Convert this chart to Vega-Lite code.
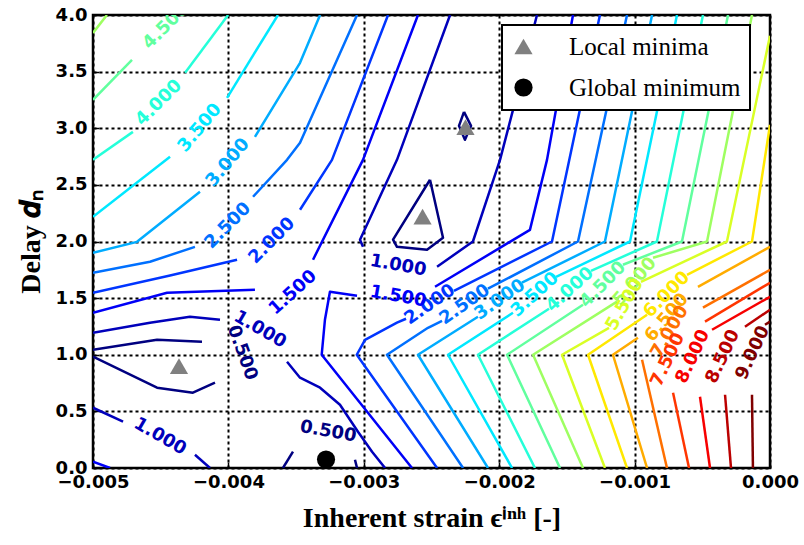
{
  "$schema": "https://vega.github.io/schema/vega-lite/v6.json",
  "width": 677,
  "height": 453,
  "autosize": {"type": "none"},
  "padding": {"left": 93, "top": 15, "right": 34, "bottom": 77},
  "background": "white",
  "config": {
    "view": {"stroke": "#000", "strokeWidth": 2.5},
    "axis": {
      "domain": false,
      "grid": true,
      "gridColor": "#000",
      "gridDash": [3, 3],
      "gridWidth": 2,
      "gridOpacity": 1,
      "labelColor": "#000",
      "labelFont": "DejaVu Sans",
      "labelFontWeight": "bold",
      "labelFontSize": 18,
      "labelFlush": false,
      "labelOverlap": false,
      "tickColor": "#000",
      "tickWidth": 1.5,
      "tickSize": -6,
      "titleColor": "#000",
      "titleFont": "Liberation Serif",
      "titleFontWeight": "bold",
      "titleFontSize": 28
    },
    "legend": {
      "strokeColor": "#000",
      "strokeWidth": 2,
      "fillColor": "#fff",
      "padding": 9,
      "labelFont": "Liberation Serif",
      "labelFontSize": 25,
      "labelColor": "#000",
      "labelOffset": 33,
      "rowPadding": 15,
      "symbolStrokeWidth": 0,
      "symbolSize": 330,
      "labelLimit": 400
    }
  },
  "datasets": {
    "lines": [
      {"l": "0.500", "s": "05a", "x": [-0.005, -0.004527, -0.004195], "y": [1.044, 1.132, 1.115]},
      {"l": "0.500", "s": "05b", "x": [-0.004099, -0.004262, -0.004527, -0.005], "y": [0.753, 0.665, 0.709, 0.983]},
      {"l": "0.500", "s": "05c", "x": [-0.003597, -0.003523], "y": [0, 0.144]},
      {"l": "0.500", "s": "05d", "x": [-0.003065, -0.00305], "y": [0.073, 0]},
      {"l": "0.500", "s": "05e", "x": [-0.002511, -0.002784, -0.002755, -0.002533, -0.002415, -0.002511], "y": [2.545, 2.016, 1.953, 1.927, 2.033, 2.545]},
      {"l": "0.500", "s": "05f", "x": [-0.00226, -0.002297, -0.002253, -0.002208, -0.00226], "y": [3.145, 3.021, 2.898, 3.021, 3.145]},
      {"l": "1.000", "s": "1a", "x": [-0.005, -0.004579, -0.004284, -0.004062], "y": [1.194, 1.283, 1.335, 1.309]},
      {"l": "1.000", "s": "1b", "x": [-0.003567, -0.003471, -0.003323, -0.003176, -0.003043, -0.002939, -0.002843], "y": [0.938, 0.797, 0.709, 0.559, 0.32, 0.144, 0]},
      {"l": "1.000", "s": "1c", "x": [-0.005, -0.004778], "y": [0.532, 0.409]},
      {"l": "1.000", "s": "1d", "x": [-0.004247, -0.004136], "y": [0.117, 0]},
      {"l": "1.000", "s": "1e", "x": [-0.002363, -0.002755, -0.003028, -0.003006], "y": [4, 2.721, 2.016, 1.953]},
      {"l": "1.000", "s": "1f", "x": [-0.002459, -0.002194, -0.001994, -0.001898, -0.001721], "y": [1.777, 2, 2.721, 3.162, 4]},
      {"l": "1.500", "s": "15a", "x": [-0.005, -0.004453, -0.003804], "y": [1.371, 1.547, 1.574]},
      {"l": "1.500", "s": "15b", "x": [-0.003375, -0.003006, -0.0026], "y": [1.839, 2.721, 4]},
      {"l": "1.500", "s": "15c", "x": [-0.001455, -0.001647, -0.001773, -0.002474], "y": [4, 2.721, 2.103, 1.6]},
      {"l": "1.500", "s": "15d", "x": [-0.00305, -0.00325, -0.003287, -0.003311, -0.002644], "y": [1.521, 1.556, 1.309, 1, 0]},
      {"l": "1.500", "s": "15e", "x": [-0.005, -0.004874], "y": [0.056, 0]},
      {"l": "2.000", "s": "2a", "x": [-0.005, -0.004431, -0.003936], "y": [1.547, 1.699, 1.839]},
      {"l": "2.000", "s": "2b", "x": [-0.003471, -0.003235, -0.002821], "y": [2.28, 2.721, 4]},
      {"l": "2.000", "s": "2c", "x": [-0.001256, -0.00161, -0.002334], "y": [4, 2, 1.565]},
      {"l": "2.000", "s": "2d", "x": [-0.002688, -0.002755, -0.002991, -0.003052, -0.002459], "y": [1.318, 1.283, 1.132, 1, 0]},
      {"l": "2.500", "s": "25a", "x": [-0.005, -0.004579, -0.004247], "y": [1.724, 1.821, 1.953]},
      {"l": "2.500", "s": "25b", "x": [-0.003818, -0.003567, -0.003471, -0.00305], "y": [2.395, 2.721, 2.871, 4]},
      {"l": "2.500", "s": "25c", "x": [-0.001056, -0.001418, -0.002083], "y": [4, 2, 1.583]},
      {"l": "2.500", "s": "25d", "x": [-0.002422, -0.002526, -0.002829, -0.002267], "y": [1.3, 1.238, 1, 0]},
      {"l": "3.000", "s": "3a", "x": [-0.005, -0.004675, -0.00421], "y": [1.9, 1.997, 2.439]},
      {"l": "3.000", "s": "3b", "x": [-0.003804, -0.003471, -0.003323], "y": [2.924, 3.578, 4]},
      {"l": "3.000", "s": "3c", "x": [-0.000871, -0.001219, -0.001832], "y": [4, 2, 1.636]},
      {"l": "3.000", "s": "3d", "x": [-0.002157, -0.0026, -0.002083], "y": [1.335, 1, 0]},
      {"l": "3.500", "s": "35a", "x": [-0.005, -0.004431], "y": [2.218, 2.748]},
      {"l": "3.500", "s": "35b", "x": [-0.00401, -0.003634], "y": [3.269, 4]},
      {"l": "3.500", "s": "35c", "x": [-0.000687, -0.001034, -0.00158], "y": [4, 2, 1.688]},
      {"l": "3.500", "s": "35d", "x": [-0.001898, -0.002378, -0.001905], "y": [1.371, 1, 0]},
      {"l": "4.000", "s": "4a", "x": [-0.005, -0.004705], "y": [2.721, 2.968]},
      {"l": "4.000", "s": "4b", "x": [-0.00432, -0.004002], "y": [3.49, 4]},
      {"l": "4.000", "s": "4c", "x": [-0.000495, -0.000835, -0.001322], "y": [4, 2, 1.741]},
      {"l": "4.000", "s": "4d", "x": [-0.001632, -0.002157, -0.001736], "y": [1.406, 1, 0]},
      {"l": "4.500", "s": "45a", "x": [-0.005, -0.004712], "y": [3.251, 3.604]},
      {"l": "4.500", "s": "45b", "x": [-0.00031, -0.00065, -0.001086], "y": [4, 2, 1.795]},
      {"l": "4.500", "s": "45c", "x": [-0.001381, -0.001942, -0.001551], "y": [1.442, 1, 0]},
      {"l": "5.000", "s": "5a", "x": [-0.005, -0.004897], "y": [3.842, 4]},
      {"l": "5.000", "s": "5b", "x": [-0.000133, -0.000465, -0.000864], "y": [4, 2, 1.856]},
      {"l": "5.000", "s": "5c", "x": [-0.00113, -0.00175, -0.001381], "y": [1.469, 1, 0]},
      {"l": "5.500", "s": "55a", "x": [0, -0.000318, -0.000953], "y": [3.816, 2, 1.644]},
      {"l": "5.500", "s": "55b", "x": [-0.001189, -0.001536, -0.001219], "y": [1.238, 1, 0]},
      {"l": "6.000", "s": "6a", "x": [0, -0.000133, -0.000613], "y": [3.03, 2, 1.706]},
      {"l": "6.000", "s": "6b", "x": [-0.000908, -0.001344, -0.001056], "y": [1.354, 1, 0]},
      {"l": "6.500", "s": "65a", "x": [0, -0.000532], "y": [1.953, 1.6]},
      {"l": "6.500", "s": "65b", "x": [-0.000975, -0.00116, -0.000908], "y": [1.15, 1, 0]},
      {"l": "7.000", "s": "7a", "x": [0, -0.000495], "y": [1.75, 1.416]},
      {"l": "7.000", "s": "7b", "x": [-0.000945, -0.000761], "y": [0.956, 0]},
      {"l": "7.500", "s": "75a", "x": [0, -0.00048], "y": [1.636, 1.292]},
      {"l": "7.500", "s": "75b", "x": [-0.000716, -0.000598], "y": [0.665, 0]},
      {"l": "8.000", "s": "8a", "x": [0, -0.000428], "y": [1.512, 1.221]},
      {"l": "8.000", "s": "8b", "x": [-0.000517, -0.000443], "y": [0.629, 0]},
      {"l": "8.500", "s": "85a", "x": [0, -0.000185], "y": [1.397, 1.248]},
      {"l": "8.500", "s": "85b", "x": [-0.000332, -0.000288], "y": [0.647, 0]},
      {"l": "9.000", "s": "9a", "x": [0, -0.000037], "y": [1.292, 1.265]},
      {"l": "9.000", "s": "9b", "x": [-0.000133, -0.000126], "y": [0.647, 0]}
    ],
    "labels": [
      {"id": 1, "t": "4.500", "x": -0.00446, "y": 3.9},
      {"id": 2, "t": "4.000", "x": -0.004513, "y": 3.224},
      {"id": 3, "t": "3.500", "x": -0.00421, "y": 3.003},
      {"id": 4, "t": "3.000", "x": -0.004003, "y": 2.695},
      {"id": 5, "t": "2.500", "x": -0.004003, "y": 2.139},
      {"id": 6, "t": "2.000", "x": -0.003678, "y": 2.006},
      {"id": 7, "t": "1.500", "x": -0.003523, "y": 1.547},
      {"id": 8, "t": "1.000", "x": -0.003767, "y": 1.221},
      {"id": 9, "t": "0.500", "x": -0.0039, "y": 1.018},
      {"id": 10, "t": "1.000", "x": -0.004505, "y": 0.276},
      {"id": 11, "t": "0.500", "x": -0.003264, "y": 0.32},
      {"id": 12, "t": "1.000", "x": -0.002747, "y": 1.786},
      {"id": 13, "t": "1.500", "x": -0.002747, "y": 1.512},
      {"id": 14, "t": "2.000", "x": -0.002511, "y": 1.442},
      {"id": 15, "t": "2.500", "x": -0.002253, "y": 1.442},
      {"id": 16, "t": "3.000", "x": -0.001994, "y": 1.486},
      {"id": 17, "t": "3.500", "x": -0.001736, "y": 1.53},
      {"id": 18, "t": "4.000", "x": -0.001477, "y": 1.574},
      {"id": 19, "t": "4.500", "x": -0.001233, "y": 1.618},
      {"id": 20, "t": "5.000", "x": -0.000997, "y": 1.644},
      {"id": 21, "t": "5.500", "x": -0.001071, "y": 1.442},
      {"id": 22, "t": "6.000", "x": -0.000761, "y": 1.53},
      {"id": 23, "t": "6.500", "x": -0.000761, "y": 1.327},
      {"id": 24, "t": "7.000", "x": -0.000739, "y": 1.203},
      {"id": 25, "t": "7.500", "x": -0.000753, "y": 0.956},
      {"id": 26, "t": "8.000", "x": -0.000569, "y": 0.983},
      {"id": 27, "t": "8.500", "x": -0.000347, "y": 0.983},
      {"id": 28, "t": "9.000", "x": -0.000126, "y": 1.018}
    ],
    "minima": [
      {"kind": "Local minima", "x": -0.004365, "y": 0.9},
      {"kind": "Local minima", "x": -0.002566, "y": 2.22},
      {"kind": "Local minima", "x": -0.002249, "y": 3.01},
      {"kind": "Global minimum", "x": -0.003279, "y": 0.075}
    ]
  },
  "layer": [
    {
      "data": {"name": "lines"},
      "transform": [{"flatten": ["x", "y"]}],
      "mark": {"type": "line", "strokeWidth": 2.5, "clip": true, "strokeJoin": "round"},
      "encoding": {
        "x": {
          "field": "x", "type": "quantitative",
          "scale": {"domain": [-0.005, 0], "nice": false, "zero": false},
          "axis": {"values": [-0.005, -0.004, -0.003, -0.002, -0.001, 0], "format": ".3f", "title": "Inherent strain ϵⁱⁿʰ [-]", "labelPadding": 11, "titlePadding": 13}
        },
        "y": {
          "field": "y", "type": "quantitative",
          "scale": {"domain": [0, 4], "nice": false, "zero": false},
          "axis": {"values": [0, 0.5, 1, 1.5, 2, 2.5, 3, 3.5, 4], "format": ".1f", "title": "Delay 𝒅ₙ", "labelPadding": 12, "titlePadding": 10}
        },
        "detail": {"field": "s"},
        "order": {"value": null},
        "stroke": {
          "field": "l", "type": "nominal", "legend": null,
          "scale": {
            "domain": ["0.500", "1.000", "1.500", "2.000", "2.500", "3.000", "3.500", "4.000", "4.500", "5.000", "5.500", "6.000", "6.500", "7.000", "7.500", "8.000", "8.500", "9.000"],
            "range": ["#000080", "#0000bb", "#0000f7", "#0035ff", "#0070ff", "#00acff", "#00e8ff", "#25ffd9", "#61ff9e", "#9eff61", "#d9ff25", "#ffe800", "#ffac00", "#ff7000", "#ff3500", "#f70000", "#bb0000", "#800000"]
          }
        }
      }
    },
    {
      "data": {"name": "labels"},
      "transform": [{"filter": {"field": "id", "oneOf": [1, 2, 5, 6, 19, 22]}}],
      "mark": {"type": "text", "angle": -45, "font": "DejaVu Sans", "fontWeight": "bold", "fontSize": 18, "clip": true},
      "encoding": {
        "x": {"field": "x", "type": "quantitative"},
        "y": {"field": "y", "type": "quantitative"},
        "text": {"field": "t"},
        "fill": {"field": "t", "type": "nominal", "legend": null,
          "scale": {
            "domain": ["0.500", "1.000", "1.500", "2.000", "2.500", "3.000", "3.500", "4.000", "4.500", "5.000", "5.500", "6.000", "6.500", "7.000", "7.500", "8.000", "8.500", "9.000"],
            "range": ["#000080", "#0000bb", "#0000f7", "#0035ff", "#0070ff", "#00acff", "#00e8ff", "#25ffd9", "#61ff9e", "#9eff61", "#d9ff25", "#ffe800", "#ffac00", "#ff7000", "#ff3500", "#f70000", "#bb0000", "#800000"]
          }
        }
      }
    },
    {
      "data": {"name": "labels"},
      "transform": [{"filter": {"field": "id", "oneOf": [3, 4, 20, 23]}}],
      "mark": {"type": "text", "angle": -50, "font": "DejaVu Sans", "fontWeight": "bold", "fontSize": 18, "clip": true},
      "encoding": {
        "x": {"field": "x", "type": "quantitative"},
        "y": {"field": "y", "type": "quantitative"},
        "text": {"field": "t"},
        "fill": {"field": "t", "type": "nominal", "legend": null}
      }
    },
    {
      "data": {"name": "labels"},
      "transform": [{"filter": {"field": "id", "oneOf": [7, 17, 18]}}],
      "mark": {"type": "text", "angle": -42, "font": "DejaVu Sans", "fontWeight": "bold", "fontSize": 18, "clip": true},
      "encoding": {
        "x": {"field": "x", "type": "quantitative"},
        "y": {"field": "y", "type": "quantitative"},
        "text": {"field": "t"},
        "fill": {"field": "t", "type": "nominal", "legend": null}
      }
    },
    {
      "data": {"name": "labels"},
      "transform": [{"filter": {"field": "id", "oneOf": [14, 15, 16]}}],
      "mark": {"type": "text", "angle": -35, "font": "DejaVu Sans", "fontWeight": "bold", "fontSize": 18, "clip": true},
      "encoding": {
        "x": {"field": "x", "type": "quantitative"},
        "y": {"field": "y", "type": "quantitative"},
        "text": {"field": "t"},
        "fill": {"field": "t", "type": "nominal", "legend": null}
      }
    },
    {
      "data": {"name": "labels"},
      "transform": [{"filter": {"field": "id", "oneOf": [21, 24]}}],
      "mark": {"type": "text", "angle": -60, "font": "DejaVu Sans", "fontWeight": "bold", "fontSize": 18, "clip": true},
      "encoding": {
        "x": {"field": "x", "type": "quantitative"},
        "y": {"field": "y", "type": "quantitative"},
        "text": {"field": "t"},
        "fill": {"field": "t", "type": "nominal", "legend": null}
      }
    },
    {
      "data": {"name": "labels"},
      "transform": [{"filter": {"field": "id", "oneOf": [25, 26, 27, 28]}}],
      "mark": {"type": "text", "angle": -65, "font": "DejaVu Sans", "fontWeight": "bold", "fontSize": 18, "clip": true},
      "encoding": {
        "x": {"field": "x", "type": "quantitative"},
        "y": {"field": "y", "type": "quantitative"},
        "text": {"field": "t"},
        "fill": {"field": "t", "type": "nominal", "legend": null}
      }
    },
    {
      "data": {"name": "labels"},
      "transform": [{"filter": {"field": "id", "oneOf": [8, 10]}}],
      "mark": {"type": "text", "angle": 30, "font": "DejaVu Sans", "fontWeight": "bold", "fontSize": 18, "clip": true},
      "encoding": {
        "x": {"field": "x", "type": "quantitative"},
        "y": {"field": "y", "type": "quantitative"},
        "text": {"field": "t"},
        "fill": {"field": "t", "type": "nominal", "legend": null}
      }
    },
    {
      "data": {"name": "labels"},
      "transform": [{"filter": {"field": "id", "oneOf": [9]}}],
      "mark": {"type": "text", "angle": 70, "font": "DejaVu Sans", "fontWeight": "bold", "fontSize": 18, "clip": true},
      "encoding": {
        "x": {"field": "x", "type": "quantitative"},
        "y": {"field": "y", "type": "quantitative"},
        "text": {"field": "t"},
        "fill": {"field": "t", "type": "nominal", "legend": null}
      }
    },
    {
      "data": {"name": "labels"},
      "transform": [{"filter": {"field": "id", "oneOf": [11, 12, 13]}}],
      "mark": {"type": "text", "angle": 10, "font": "DejaVu Sans", "fontWeight": "bold", "fontSize": 18, "clip": true},
      "encoding": {
        "x": {"field": "x", "type": "quantitative"},
        "y": {"field": "y", "type": "quantitative"},
        "text": {"field": "t"},
        "fill": {"field": "t", "type": "nominal", "legend": null}
      }
    },
    {
      "data": {"name": "minima"},
      "mark": {"type": "point", "filled": true, "opacity": 1, "size": 330, "strokeWidth": 0},
      "encoding": {
        "x": {"field": "x", "type": "quantitative"},
        "y": {"field": "y", "type": "quantitative"},
        "shape": {"field": "kind", "type": "nominal",
          "scale": {"domain": ["Local minima", "Global minimum"], "range": ["triangle-up", "circle"]},
          "legend": {"title": null, "orient": "none", "legendX": 409, "legendY": 10}},
        "color": {"field": "kind", "type": "nominal",
          "scale": {"domain": ["Local minima", "Global minimum"], "range": ["#808080", "#000000"]},
          "legend": {"title": null, "orient": "none", "legendX": 409, "legendY": 10}}
      }
    }
  ]
}
